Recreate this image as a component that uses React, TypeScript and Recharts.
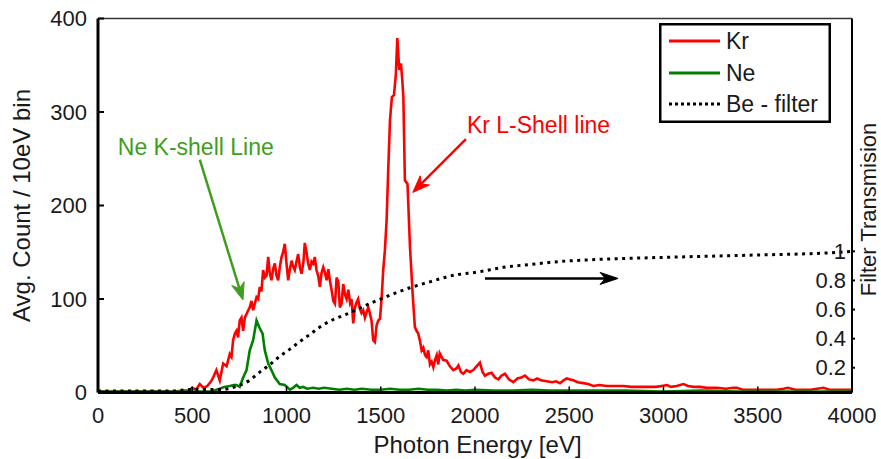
import { LineChart, Line, XAxis, YAxis, ReferenceLine, ReferenceDot, Legend } from "recharts";

const FONT = '"Liberation Sans", Arial, Helvetica, sans-serif';

// Kr spectrum (energy in eV, avg count per 10 eV bin)
const krEnergy = [
  0, 200, 400, 460, 480, 500, 520, 540, 560, 580, 600, 611, 628, 646, 664, 682, 699, 708, 717, 726,
  735, 743, 752, 761, 770, 779, 788, 797, 805, 814, 823, 832, 841, 850, 858, 867, 876, 885, 894, 903,
  911, 920, 929, 938, 947, 956, 965, 974, 982, 991, 1000, 1009, 1018, 1027, 1035, 1044, 1053, 1062, 1071, 1080,
  1090, 1097, 1106, 1115, 1124, 1133, 1142, 1150, 1159, 1168, 1177, 1186, 1195, 1204, 1213, 1222, 1230, 1239, 1248, 1257,
  1266, 1275, 1283, 1292, 1301, 1310, 1319, 1328, 1337, 1345, 1354, 1362, 1371, 1380, 1389, 1398, 1407, 1416, 1425, 1434,
  1443, 1451, 1460, 1469, 1478, 1487, 1496, 1505, 1513, 1522, 1531, 1540, 1549, 1559, 1570, 1580, 1588, 1598, 1607, 1614,
  1620, 1628, 1642, 1655, 1669, 1681, 1690, 1699, 1708, 1717, 1726, 1735, 1743, 1752, 1761, 1770, 1779, 1788, 1797, 1805,
  1813, 1831, 1849, 1867, 1885, 1903, 1912, 1925, 1938, 1955, 1973, 1991, 2008, 2026, 2040, 2053, 2070, 2088, 2106, 2124,
  2140, 2159, 2180, 2203, 2225, 2245, 2265, 2287, 2309, 2330, 2350, 2380, 2410, 2430, 2451, 2470, 2487, 2505, 2522, 2545,
  2575, 2600, 2628, 2660, 2699, 2740, 2787, 2830, 2876, 2929, 2960, 2990, 3018, 3040, 3070, 3106, 3130, 3160, 3194, 3230,
  3283, 3330, 3370, 3389, 3420, 3460, 3500, 3550, 3600, 3637, 3660, 3700, 3725, 3780, 3849, 3880, 3950, 4000,
];
const krCount = [
  1, 1, 1, 2, 2, 5, 3, 9, 5, 7, 12, 16, 24, 13, 31, 28, 41, 38, 56, 63,
  66, 59, 77, 80, 66, 80, 84, 88, 91, 98, 88, 95, 102, 100, 113, 108, 131, 123, 125, 145,
  128, 120, 132, 138, 125, 120, 135, 145, 150, 159, 138, 120, 132, 141, 135, 131, 140, 148, 134, 127,
  140, 160, 150, 138, 131, 140, 138, 145, 131, 125, 113, 128, 134, 128, 120, 132, 120, 110, 98, 95,
  123, 118, 91, 95, 116, 105, 100, 110, 96, 100, 74, 90, 96, 100, 90, 85, 88, 80, 86, 91,
  84, 77, 56, 54, 72, 77, 79, 102, 131, 152, 184, 240, 291, 316, 318, 340, 379, 345, 352, 335,
  316, 227, 223, 156, 106, 70, 66, 63, 55, 45, 48, 40, 38, 45, 30, 33, 27, 35, 40, 30,
  42, 35, 34, 28, 24, 26, 29, 22, 20, 24, 22, 24, 28, 32, 22, 18, 20, 21, 16, 14,
  18, 20, 14, 11, 15, 16, 18, 14, 13, 15, 13, 12, 11, 12, 10, 13, 15, 14, 13, 11,
  10, 9, 7, 8, 7, 7, 7, 6, 6, 6, 6, 7, 8, 6, 7, 9, 7, 6, 6, 5,
  5, 4, 5, 5, 3, 3, 3, 3, 3, 4, 5, 3, 3, 3, 5, 3, 3, 3,
];

// Ne spectrum
const neEnergy = [
  0, 300, 600, 646, 670, 699, 720, 735, 752, 770, 788, 805, 823, 841, 855, 873, 885, 903, 920, 938,
  964, 991, 1018, 1035, 1053, 1070, 1088, 1110, 1142, 1170, 1200, 1240, 1280, 1320, 1360, 1400, 1450, 1500, 1550, 1600,
  1650, 1700, 1750, 1800, 1850, 1900, 1950, 2000, 2100, 2200, 2300, 2400, 2500, 2600, 2800, 3000, 3200, 3400, 3600, 3800,
  4000,
];
const neCount = [
  1, 1, 1, 4, 6, 7, 8, 8, 6, 16, 24, 45, 56, 77, 70, 63, 45, 31, 24, 16,
  9, 8, 3, 5, 8, 5, 6, 4, 5, 4, 5, 4, 3, 4, 3, 4, 3, 3, 4, 3,
  3, 4, 3, 3, 2, 3, 2, 3, 2, 2, 3, 2, 2, 2, 2, 1, 2, 1, 1, 1,
  1,
];

// Be filter transmission
const beEnergy = [
  0, 400, 487, 560, 620, 662, 700, 752, 800, 858, 910, 965, 1020, 1071, 1125, 1177, 1230, 1283, 1340, 1389,
  1440, 1496, 1591, 1655, 1760, 1867, 2026, 2150, 2292, 2450, 2663, 2900, 3194, 3500, 3884, 4000,
];
const beTrans = [
  0.04, 0.04, 0.05, 0.05, 0.05, 0.05, 0.06, 0.08, 0.11, 0.17, 0.22, 0.28, 0.33, 0.38, 0.43, 0.48, 0.52, 0.55, 0.58, 0.61,
  0.64, 0.67, 0.72, 0.75, 0.79, 0.83, 0.86, 0.89, 0.91, 0.93, 0.945, 0.955, 0.965, 0.975, 0.99, 1.0,
];

const xTicks = [0, 500, 1000, 1500, 2000, 2500, 3000, 3500, 4000];
const countTicks = [0, 100, 200, 300, 400];
const transTicks = [0.2, 0.4, 0.6, 0.8, 1];

const krData = krEnergy.map((e, i) => ({ e, v: krCount[i] }));
const neData = neEnergy.map((e, i) => ({ e, v: neCount[i] }));
const beData = beEnergy.map((e, i) => ({ e, t: beTrans[i] }));

const RED = "#ff0000";
const GREEN = "#008000";
const ANNO_GREEN = "#3f9e1d";

function makeArrow(color: string, head = 17, half = 6.5) {
  return (props: any) => {
    const { x1, y1, x2, y2 } = props;
    const ang = Math.atan2(y2 - y1, x2 - x1);
    const c = Math.cos(ang);
    const s = Math.sin(ang);
    const bx = x2 - head * c;
    const by = y2 - head * s;
    const nx = x2 - head * 0.7 * c;
    const ny = y2 - head * 0.7 * s;
    const pts = [
      `${x2},${y2}`,
      `${bx - half * s},${by + half * c}`,
      `${nx},${ny}`,
      `${bx + half * s},${by - half * c}`,
    ].join(" ");
    return (
      <g>
        <line x1={x1} y1={y1} x2={nx} y2={ny} stroke={color} strokeWidth={2.5} />
        <polygon points={pts} fill={color} stroke={color} strokeWidth={1} />
      </g>
    );
  };
}

function makeText(text: string, color: string) {
  return (props: any) => (
    <text x={props.cx} y={props.cy} fill={color} fontSize={23} fontFamily={FONT} dominantBaseline="central">
      {text}
    </text>
  );
}

function RightTick(props: any) {
  const { x, y, payload } = props;
  return (
    <text x={x - 9} y={y} textAnchor="end" dominantBaseline="central" fontSize={22} fontFamily={FONT} fill="#1a1a1a">
      {payload.value}
    </text>
  );
}

function LegendBox() {
  const rows = [
    { name: "Kr", color: RED, dash: undefined, y: 18 },
    { name: "Ne", color: GREEN, dash: undefined, y: 50 },
    { name: "Be - filter", color: "#000", dash: "3 3", y: 81 },
  ];
  return (
    <svg width={172} height={100} style={{ display: "block" }}>
      <rect x={1.25} y={1.25} width={169.5} height={97.5} fill="#fff" stroke="#000" strokeWidth={2.5} />
      {rows.map((r) => (
        <g key={r.name}>
          <line x1={10} y1={r.y} x2={61} y2={r.y} stroke={r.color} strokeWidth={3} strokeDasharray={r.dash} />
          <text x={67} y={r.y} dominantBaseline="central" fontSize={23} fontFamily={FONT} fill="#1a1a1a">
            {r.name}
          </text>
        </g>
      ))}
    </svg>
  );
}

export default function App() {
  return (
    <div style={{ position: "absolute", left: 0, top: 0, background: "#fff" }}>
      <LineChart width={881} height={459} margin={{ top: 18.5, right: 0, bottom: 0, left: 0 }}>
        <XAxis
          type="number"
          dataKey="e"
          domain={[0, 4000]}
          ticks={xTicks}
          interval={0}
          height={66.5}
          tickSize={-6}
          tickMargin={20.5}
          axisLine={{ stroke: "#000", strokeWidth: 3 }}
          tickLine={{ stroke: "#000", strokeWidth: 1.5 }}
          tick={{ fontSize: 22, fill: "#1a1a1a", fontFamily: FONT }}
          label={(p: any) => (
            <text
              x={p.viewBox.x + p.viewBox.width / 2 + 2.5}
              y={p.viewBox.y + 60.5}
              textAnchor="middle"
              fontSize={24}
              fontFamily={FONT}
              fill="#1a1a1a"
            >
              Photon Energy [eV]
            </text>
          )}
        />
        <YAxis
          yAxisId="left"
          type="number"
          domain={[0, 400]}
          ticks={countTicks}
          interval={0}
          width={98}
          tickSize={-6}
          tickMargin={17}
          axisLine={{ stroke: "#000", strokeWidth: 3 }}
          tickLine={{ stroke: "#000", strokeWidth: 2 }}
          tick={{ fontSize: 22, fill: "#1a1a1a", fontFamily: FONT }}
          label={(p: any) => (
            <text
              transform={`translate(30, ${p.viewBox.y + p.viewBox.height / 2}) rotate(-90)`}
              textAnchor="middle"
              fontSize={24}
              fontFamily={FONT}
              fill="#1a1a1a"
            >
              Avg. Count / 10eV bin
            </text>
          )}
        />
        <YAxis
          yAxisId="right"
          orientation="right"
          type="number"
          domain={[0.03, 2.6]}
          ticks={transTicks}
          interval={0}
          width={29}
          tickSize={3}
          tickMargin={0}
          axisLine={{ stroke: "#000", strokeWidth: 2 }}
          tickLine={{ stroke: "#000", strokeWidth: 2 }}
          tick={<RightTick />}
          label={(p: any) => (
            <text
              transform={`translate(${p.viewBox.x + 24}, ${p.viewBox.y + p.viewBox.height / 2 + 4}) rotate(-90)`}
              textAnchor="middle"
              fontSize={22}
              fontFamily={FONT}
              fill="#1a1a1a"
            >
              Filter Transmision
            </text>
          )}
        />
        <ReferenceLine yAxisId="left" y={400} stroke="#333" strokeWidth={1.5} />
        <Line
          yAxisId="left"
          data={krData}
          dataKey="v"
          type="linear"
          stroke={RED}
          strokeWidth={2.6}
          dot={false}
          activeDot={false}
          isAnimationActive={false}
        />
        <Line
          yAxisId="left"
          data={neData}
          dataKey="v"
          type="linear"
          stroke={GREEN}
          strokeWidth={2.6}
          dot={false}
          activeDot={false}
          isAnimationActive={false}
        />
        <Line
          yAxisId="right"
          data={beData}
          dataKey="t"
          type="monotone"
          stroke="#000"
          strokeWidth={3}
          strokeDasharray="3 4.5"
          dot={false}
          activeDot={false}
          isAnimationActive={false}
        />
        <ReferenceLine
          yAxisId="left"
          segment={[{ x: 540, y: 249 }, { x: 769, y: 99 }]}
          shape={makeArrow(ANNO_GREEN)}
        />
        <ReferenceLine
          yAxisId="left"
          segment={[{ x: 1952, y: 271 }, { x: 1670, y: 214 }]}
          shape={makeArrow(RED)}
        />
        <ReferenceLine
          yAxisId="left"
          segment={[{ x: 2053, y: 122 }, { x: 2759, y: 122 }]}
          shape={makeArrow("#000", 18, 6)}
        />
        <ReferenceDot yAxisId="left" x={105} y={263} r={0} shape={makeText("Ne K-shell Line", ANNO_GREEN)} />
        <ReferenceDot yAxisId="left" x={1957} y={286} r={0} shape={makeText("Kr L-Shell line", RED)} />
        <Legend
          layout="vertical"
          align="center"
          verticalAlign="middle"
          wrapperStyle={{ left: 659, top: 23, width: 172, height: 100 }}
          content={() => <LegendBox />}
        />
      </LineChart>
    </div>
  );
}
